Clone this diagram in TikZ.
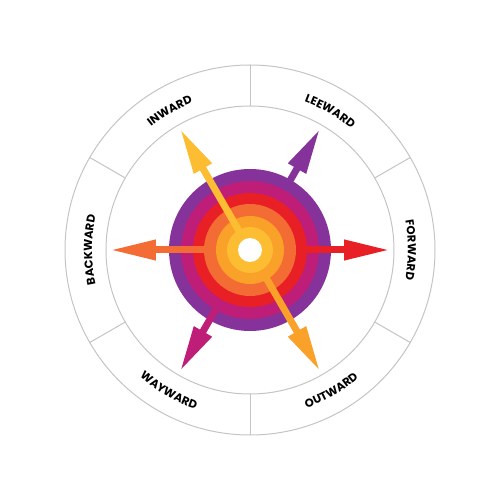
\documentclass[tikz,border=0pt]{standalone}
\usepackage{fontspec}
\newfontfamily\lbl{Poppins}[UprightFont={* Bold}]
\usetikzlibrary{arrows.meta,decorations.text}
\definecolor{cpurple}{RGB}{134,50,155}
\definecolor{cmagenta}{RGB}{190,30,120}
\definecolor{cred}{RGB}{232,32,37}
\definecolor{corange}{RGB}{242,108,52}
\definecolor{clorange}{RGB}{249,161,40}
\definecolor{cyellow}{RGB}{253,189,51}
\definecolor{cgray}{RGB}{196,196,196}
\tikzset{
  ringline/.style={draw=cgray, line width=1pt},
  ray/.style={line width=7pt, -{Triangle[length=46pt,width=19pt]}},
  cwlabel/.style={decorate, decoration={text along path, text align=center,
      text={|\lbl\fontsize{11.5}{13}\selectfont|#1}}},
}
\begin{document}
\begin{tikzpicture}
\useasboundingbox (-250pt,-250pt) rectangle (250pt,250pt);
% outer frame
\draw[ringline] (0,0) circle[radius=185pt];
\draw[ringline] (0,0) circle[radius=144pt];
\foreach \a in {90,30,-30,-90,150,210}
  \draw[ringline] (\a:144pt) -- (\a:185pt);
% discs
\fill[cpurple] (0,0) circle[radius=81pt];
\fill[cmagenta] (0,0) circle[radius=69pt];
\fill[cred] (0,0) circle[radius=57pt];
\fill[corange] (0,0) circle[radius=46pt];
\fill[clorange] (0,0) circle[radius=34pt];
\fill[cyellow] (0,0) circle[radius=23pt];
% arrows
\coordinate (cen) at (0,0);
\coordinate (inS) at (120:21pt);  \coordinate (inE) at (120:140pt);
\coordinate (leS) at (60:79pt);   \coordinate (leE) at (60:140pt);
\coordinate (foS) at (0:55pt);    \coordinate (foE) at (0:140pt);
\coordinate (ouS) at (-60:32pt);  \coordinate (ouE) at (-60:140pt);
\coordinate (waS) at (-120:67pt); \coordinate (waE) at (-120:140pt);
\coordinate (baS) at (180:44pt);  \coordinate (baE) at (180:140pt);
\draw[ray, cyellow] (inS) -- (inE);
\draw[ray, cpurple] (leS) -- (leE);
\draw[ray, cred] (foS) -- (foE);
\draw[ray, clorange] (ouS) -- (ouE);
\draw[ray, cmagenta] (waS) -- (waE);
\draw[ray, corange] (baS) -- (baE);
\fill[white] (cen) circle[radius=12pt];
% labels
\path[cwlabel=INWARD] (160:158pt) arc[start angle=160, end angle=80, radius=158pt];
\path[cwlabel=LEEWARD] (100:158pt) arc[start angle=100, end angle=20, radius=158pt];
\path[cwlabel=FORWARD] (40:158pt) arc[start angle=40, end angle=-40, radius=158pt];
\path[cwlabel=BACKWARD] (220:158pt) arc[start angle=220, end angle=140, radius=158pt];
\path[cwlabel=WAYWARD] (-160:168pt) arc[start angle=-160, end angle=-80, radius=168pt];
\path[cwlabel=OUTWARD] (-100:168pt) arc[start angle=-100, end angle=-20, radius=168pt];
\end{tikzpicture}
\end{document}
